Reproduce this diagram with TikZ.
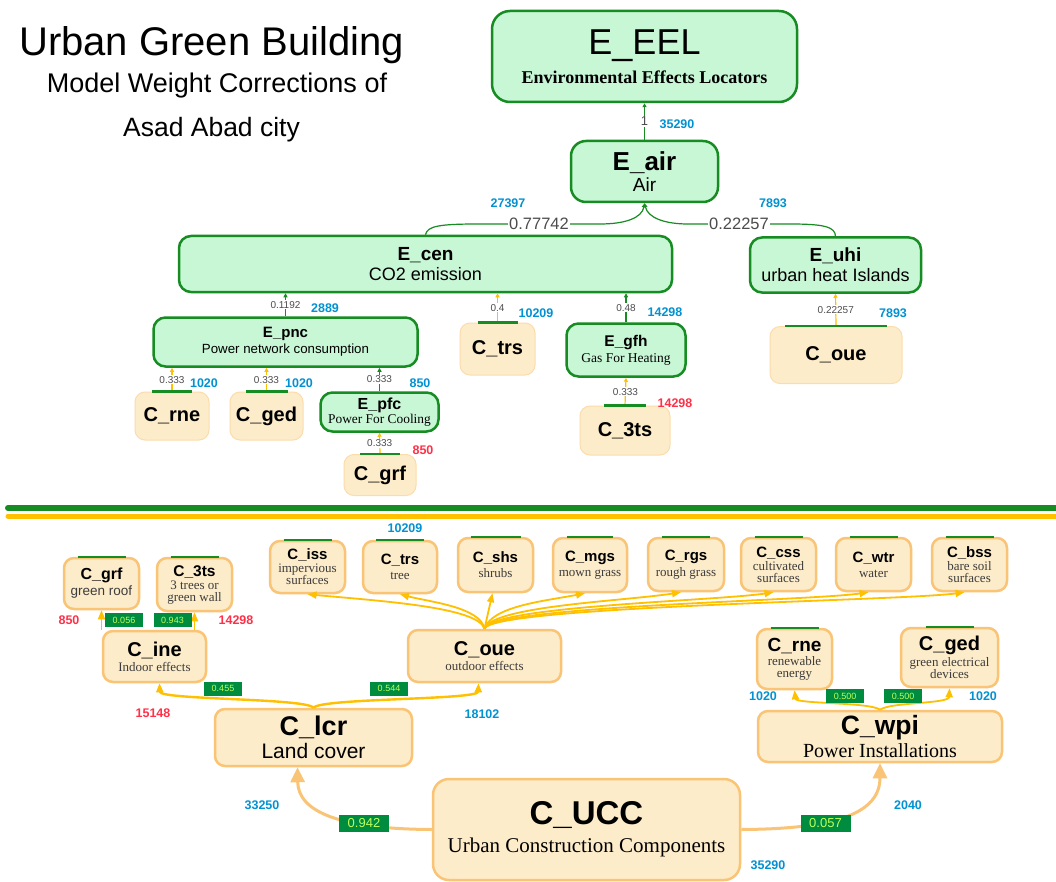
\documentclass[tikz,border=0pt]{standalone}
\usepackage{fontspec}
\setmainfont{Liberation Serif}
\setsansfont{Liberation Sans}
\usetikzlibrary{arrows.meta, positioning, calc}
\usepackage{xcolor}
\definecolor{mintfill}{RGB}{200,247,214}
\definecolor{leafgreen}{RGB}{22,140,34}
\definecolor{sandfill}{RGB}{253,236,201}
\definecolor{sandline}{RGB}{250,196,118}
\definecolor{amber}{RGB}{255,192,0}
\definecolor{numblue}{RGB}{0,146,210}
\definecolor{numred}{RGB}{255,48,72}
\definecolor{tagfill}{RGB}{0,140,62}
\definecolor{tagtext}{RGB}{190,255,90}
\definecolor{desctext}{RGB}{60,60,60}
\newcommand{\setfs}[2]{\fontsize{#1}{#2}\selectfont}
\newcommand{\desctxt}[1]{{\rmfamily\color{desctext}\setfs{13pt}{15pt}#1}}
\tikzset{greennode/.style={draw=leafgreen, fill=mintfill, line width=2.5pt, rounded corners=12pt, align=center, inner sep=0pt, font=\sffamily},sandnode/.style={draw=sandline!60, fill=sandfill, line width=1pt, rounded corners=10pt, align=center, inner sep=0pt, font=\sffamily},boldsandnode/.style={sandnode, draw=sandline, line width=2.5pt}}
\tikzset{greenlink/.style={draw=leafgreen, line width=1.2pt, -{Triangle[length=4pt, width=4pt]}},amberlink/.style={draw=amber, line width=1.2pt, -{Triangle[length=4pt, width=4pt]}},fanlink/.style={draw=amber, line width=1.8pt, -{Triangle[length=9pt, width=7pt]}},biglink/.style={draw=sandline, line width=3pt, -{Triangle[length=15pt, width=14pt]}}}

\begin{document}
\begin{tikzpicture}[
        x=1pt, y=-1pt,
        weight/.style={fill=white, inner sep=1pt, text=black!70, font=\sffamily\setfs{10pt}{12pt}},
        tag/.style={fill=tagfill, text=tagtext, inner sep=0pt, minimum width=38pt, minimum height=14pt, font=\sffamily\setfs{9pt}{10pt}},
        bigtag/.style={tag, minimum width=50pt, minimum height=17pt, font=\sffamily\setfs{13pt}{14pt}},
        bluecount/.style={text=numblue, inner sep=0pt, font=\sffamily\bfseries\setfs{12.5pt}{14pt}},
        redcount/.style={bluecount, text=numred},
        topbar/.style={draw=leafgreen, line width=2.2pt},
        split/.style={line width=#1, line cap=round}
    ]
        \useasboundingbox[fill=white] (0,0) rectangle (1056,882);
        % Title
        \node[anchor=base, font=\sffamily\setfs{40pt}{42pt}] (title) at (211.5,56) {Urban Green Building};
        \node[anchor=base, font=\sffamily\setfs{27pt}{29pt}] (subtitle) at (217,93) {Model Weight Corrections of};
        \node[anchor=base, font=\sffamily\setfs{26.5pt}{28pt}] (city) at (211.5,137) {Asad Abad city};
        % Environmental tree
        \node[greennode, rounded corners=18pt, minimum width=305pt, minimum height=91pt] (eel) at (644.5,56.5) {{\setfs{36pt}{38pt}E\_EEL}\\[8pt]{\rmfamily\bfseries\setfs{18pt}{20pt}Environmental Effects Locators}};
        \node[greennode, rounded corners=15pt, minimum width=147pt, minimum height=61pt] (air) at (644.5,171.5) {{\bfseries\setfs{26pt}{26pt}E\_air}\\[3pt]{\setfs{19pt}{20pt}Air}};
        \node[greennode, minimum width=493pt, minimum height=56pt] (cen) at (425.5,264) {{\bfseries\setfs{19pt}{20pt}E\_cen}\\[4pt]{\setfs{18pt}{20pt}CO2 emission}};
        \node[greennode, minimum width=171pt, minimum height=55pt] (uhi) at (835.5,265) {{\bfseries\setfs{19pt}{20pt}E\_uhi}\\[4pt]{\setfs{18pt}{20pt}urban heat Islands}};
        \node[greennode, minimum width=264pt, minimum height=49pt] (pnc) at (285.5,342) {{\bfseries\setfs{15pt}{16pt}E\_pnc}\\[2pt]{\setfs{13.3pt}{14pt}Power network consumption}};
        \node[sandnode, minimum width=75pt, minimum height=52pt] (trsA) at (497.5,349) {\bfseries\setfs{20pt}{20pt}C\_trs};
        \node[greennode, minimum width=119pt, minimum height=53pt] (gfh) at (626,350) {{\bfseries\setfs{15.5pt}{16pt}E\_gfh}\\[3pt]{\rmfamily\setfs{13.5pt}{14pt}Gas For Heating}};
        \node[sandnode, minimum width=132pt, minimum height=57pt] (oueA) at (836,355) {\bfseries\setfs{20pt}{20pt}C\_oue};
        \node[sandnode, minimum width=74pt, minimum height=48pt] (rneA) at (172,416) {\bfseries\setfs{20pt}{20pt}C\_rne};
        \node[sandnode, minimum width=73pt, minimum height=48pt] (gedA) at (266.5,416) {\bfseries\setfs{20pt}{20pt}C\_ged};
        \node[greennode, minimum width=118pt, minimum height=39pt] (pfc) at (379.5,412) {{\bfseries\setfs{16pt}{16pt}E\_pfc}\\[1pt]{\rmfamily\setfs{13.4pt}{14pt}Power For Cooling}};
        \node[sandnode, minimum width=72pt, minimum height=41pt] (grfA) at (380,475) {\bfseries\setfs{20pt}{20pt}C\_grf};
        \node[sandnode, minimum width=90pt, minimum height=49pt] (tsA) at (625,430.5) {\bfseries\setfs{20pt}{20pt}C\_3ts};
        % Environmental links
        \draw[greenlink] (air) -- node[weight, font=\sffamily\setfs{13pt}{14pt}] {1} (eel);
        \draw[greenlink] (cen.north) .. controls (427,226) and (440,224) .. (478,224) -- node[weight, font=\sffamily\setfs{16.5pt}{18pt}] {0.77742} (600,224) .. controls (625,224) and (642,218) .. (air.south);
        \draw[greenlink] (uhi.north) .. controls (835,227) and (825,224) .. (790,224) -- node[weight, font=\sffamily\setfs{16.5pt}{18pt}] {0.22257} (688,224) .. controls (665,224) and (648,218) .. (air.south);
        \draw[greenlink] (pnc.north) -- node[weight] {0.1192} (pnc.north |- cen.south);
        \draw[amberlink] (trsA.north) -- node[weight] {0.4} (trsA.north |- cen.south);
        \draw[greenlink] (gfh.north) -- node[weight] {0.48} (gfh.north |- cen.south);
        \draw[amberlink] (oueA.north) -- node[weight] {0.22257} (uhi.south);
        \draw[amberlink] (rneA.north) -- node[weight] {0.333} (rneA.north |- pnc.south);
        \draw[amberlink] (gedA.north) -- node[weight] {0.333} (gedA.north |- pnc.south);
        \draw[greenlink] (pfc.north) -- node[weight] {0.333} (pfc.north |- pnc.south);
        \draw[amberlink] (grfA.north) -- node[weight] {0.333} (pfc.south);
        \draw[amberlink] (tsA.north) -- node[weight] {0.333} (gfh.south);
        % Separator
        \draw[leafgreen, split=6pt] (8,508) -- (1060,508);
        \draw[amber, split=5pt] (8,516) -- (1060,516);
        % Construction tree
        \node[boldsandnode, minimum width=75pt, minimum height=51pt] (grfB) at (101.5,583.5) {{\bfseries\setfs{16pt}{16pt}C\_grf}\\[2pt]{\color{desctext}\setfs{13.5pt}{14pt}green roof}};
        \node[boldsandnode, minimum width=75pt, minimum height=53pt] (tsB) at (194.5,584.5) {{\bfseries\setfs{15.5pt}{16pt}C\_3ts}\\[1pt]\desctxt{3 trees or}\\\desctxt{green wall}};
        \node[boldsandnode, minimum width=103pt, minimum height=51pt] (ine) at (154.5,656.5) {{\bfseries\setfs{20pt}{20pt}C\_ine}\\[3pt]\desctxt{Indoor effects}};
        \node[boldsandnode, minimum width=153pt, minimum height=52pt] (oueB) at (484.5,656) {{\bfseries\setfs{20pt}{20pt}C\_oue}\\[3pt]\desctxt{outdoor effects}};
        \node[boldsandnode, minimum width=75pt, minimum height=52pt] (iss) at (307.5,567) {{\bfseries\setfs{15pt}{15pt}C\_iss}\\[1pt]\desctxt{impervious}\\\desctxt{surfaces}};
        \node[boldsandnode, minimum width=74pt, minimum height=52pt] (trsB) at (400,567) {{\bfseries\setfs{15pt}{15pt}C\_trs}\\[3pt]\desctxt{tree}};
        \node[boldsandnode, minimum width=75pt, minimum height=54pt] (shs) at (495.5,565) {{\bfseries\setfs{15pt}{15pt}C\_shs}\\[3pt]\desctxt{shrubs}};
        \node[boldsandnode, minimum width=74pt, minimum height=54pt] (mgs) at (590,565) {{\bfseries\setfs{15pt}{15pt}C\_mgs}\\[3pt]\desctxt{mown grass}};
        \node[boldsandnode, minimum width=76pt, minimum height=53pt] (rgs) at (686,564.5) {{\bfseries\setfs{15pt}{15pt}C\_rgs}\\[3pt]\desctxt{rough grass}};
        \node[boldsandnode, minimum width=75pt, minimum height=53pt] (css) at (778.5,564.5) {{\bfseries\setfs{15pt}{15pt}C\_css}\\[1pt]\desctxt{cultivated}\\\desctxt{surfaces}};
        \node[boldsandnode, minimum width=75pt, minimum height=53pt] (wtr) at (873.5,564.5) {{\bfseries\setfs{15pt}{15pt}C\_wtr}\\[3pt]\desctxt{water}};
        \node[boldsandnode, minimum width=75pt, minimum height=53pt] (bss) at (969.5,564.5) {{\bfseries\setfs{15pt}{15pt}C\_bss}\\[1pt]\desctxt{bare soil}\\\desctxt{surfaces}};
        \node[boldsandnode, minimum width=75pt, minimum height=60pt] (rneB) at (794.5,659) {{\bfseries\setfs{19pt}{19pt}C\_rne}\\[2pt]\desctxt{renewable}\\\desctxt{energy}};
        \node[boldsandnode, minimum width=97pt, minimum height=59pt] (gedB) at (949.5,657.5) {{\bfseries\setfs{20pt}{20pt}C\_ged}\\[2pt]\desctxt{green electrical}\\\desctxt{devices}};
        \node[boldsandnode, minimum width=197pt, minimum height=57pt] (lcr) at (313.5,737.5) {{\bfseries\setfs{27pt}{27pt}C\_lcr}\\[4pt]{\setfs{21pt}{22pt}Land cover}};
        \node[boldsandnode, minimum width=244pt, minimum height=51pt] (wpi) at (880,736.5) {{\bfseries\setfs{26.5pt}{26pt}C\_wpi}\\[3pt]{\rmfamily\setfs{20pt}{20pt}Power Installations}};
        \node[boldsandnode, rounded corners=16pt, minimum width=307pt, minimum height=101pt] (ucc) at (586.5,829.5) {{\bfseries\setfs{33pt}{34pt}C\_UCC}\\[8pt]{\rmfamily\setfs{21pt}{22pt}Urban Construction Components}};
        % Green bars
        \foreach \n/\w in {trsA/20, oueA/51, rneA/20, gedA/21, grfA/20, tsA/21, grfB/24, tsB/24, iss/24, trsB/24, shs/25, mgs/23, rgs/24, css/24, wtr/24, bss/24, rneB/24, gedB/24} {
            \draw[topbar] ([xshift=-\w pt]\n.north) -- ([xshift=\w pt]\n.north);
        }
        % Construction links
        \draw[fanlink] (grfB.south |- ine.north) -- (grfB.south);
        \draw[fanlink] (tsB.south |- ine.north) -- (tsB.south);
        \draw[fanlink, line width=2.4pt] (lcr.north) .. controls (306,698) and (160,700) .. ([xshift=5pt]ine.south);
        \draw[fanlink, line width=2.4pt] (lcr.north) .. controls (321,698) and (478,700) .. ([xshift=-6pt]oueB.south);
        \draw[fanlink] (oueB.north) .. controls (478,607) and (380,601) .. (iss.south);
        \draw[fanlink] (oueB.north) .. controls (480,607) and (430,602) .. (trsB.south);
        \draw[fanlink] (oueB.north) -- ([xshift=-3pt]shs.south);
        \foreach \t/\c in {mgs/545, rgs/625, css/715, wtr/808, bss/900} {
            \draw[fanlink] (oueB.north) .. controls (492,606) and (\c,601) .. ([xshift=-5pt]\t.south);
        }
        \draw[fanlink] (wpi.north) .. controls (870,702) and (796,704) .. (rneB.south);
        \draw[fanlink] (wpi.north) .. controls (890,702) and (949,704) .. (gedB.south);
        \draw[biglink] (ucc.west) .. controls (340,829) and (298,812) .. ([xshift=-16pt]lcr.south);
        \draw[biglink] (ucc.east) .. controls (840,829) and (880,812) .. (wpi.south);
        % Weight tags
        \node[tag] (t056) at (124,620) {0.056};
        \node[tag] (t943) at (172.5,620) {0.943};
        \node[tag] (t455) at (223,688.5) {0.455};
        \node[tag] (t544) at (389,688.5) {0.544};
        \node[tag] (t500a) at (845,696) {0.500};
        \node[tag] (t500b) at (903,696) {0.500};
        \node[bigtag] (t942) at (364,823.5) {0.942};
        \node[bigtag] (t057) at (825.5,823.5) {0.057};
        % Counts
        \foreach \x/\y/\v in {677/124/35290, 508/203/27397, 773/203/7893, 325/308/2889, 536/313/10209, 665/312/14298, 893/313/7893, 204/383/1020, 299/383/1020, 420/383/850, 482/714/18102, 405/528/10209, 763/696/1020, 983/696/1020, 262/805/33250, 908/805/2040, 768/865/35290} {
            \node[bluecount] at (\x,\y) {\v};
        }
        \foreach \x/\y/\v in {423/450/850, 675/403/14298, 69/620/850, 236/620/14298, 153/713/15148} {
            \node[redcount] at (\x,\y) {\v};
        }
    \end{tikzpicture}
\end{document}
